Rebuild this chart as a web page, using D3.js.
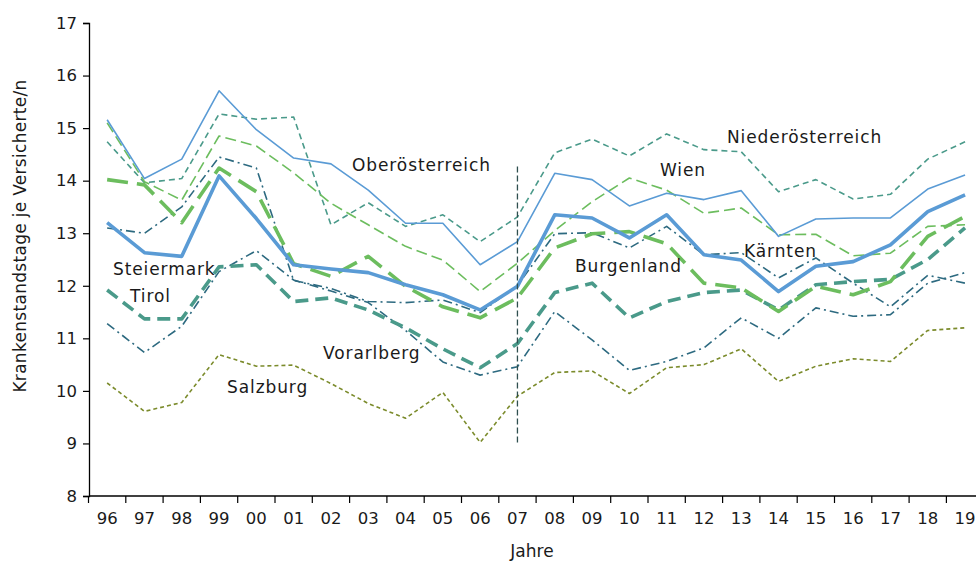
<!DOCTYPE html>
<html>
<head>
<meta charset="utf-8">
<script src="https://cdn.jsdelivr.net/npm/d3@7"></script>
<style>
  body { margin: 0; background: #fff; }
  svg text { font-family: "DejaVu Sans", sans-serif; fill: #1a1a1a; }
</style>
</head>
<body>
<div id="chart"></div>
<script>
var years = ["96","97","98","99","00","01","02","03","04","05","06","07","08","09","10","11","12","13","14","15","16","17","18","19"];
var yTicks = [8, 9, 10, 11, 12, 13, 14, 15, 16, 17];

var niederoesterreich = [14.74,13.96,14.04,15.27,15.17,15.21,13.16,13.58,13.13,13.35,12.84,13.31,14.53,14.79,14.47,14.89,14.59,14.55,13.79,14.02,13.65,13.74,14.41,14.74];
var wien              = [15.16,14.04,14.41,15.71,14.97,14.43,14.32,13.82,13.19,13.19,12.40,12.84,14.14,14.02,13.52,13.76,13.64,13.81,12.94,13.27,13.29,13.29,13.84,14.11];
var oberoesterreich   = [15.10,13.98,13.63,14.85,14.66,14.15,13.57,13.16,12.75,12.49,11.89,12.43,13.05,13.60,14.05,13.82,13.38,13.48,12.97,12.98,12.57,12.62,13.13,13.16];
var burgenland        = [14.02,13.92,13.20,14.24,13.79,12.42,12.18,12.56,11.99,11.60,11.39,11.77,12.72,12.99,13.03,12.80,12.05,11.96,11.51,11.99,11.83,12.08,12.94,13.32];
var steiermark        = [13.20,12.63,12.56,14.09,13.28,12.40,12.32,12.25,12.02,11.83,11.54,11.99,13.35,13.29,12.91,13.35,12.59,12.49,11.89,12.37,12.46,12.78,13.41,13.73];
var kaernten          = [13.10,13.00,13.50,14.45,14.24,12.10,11.95,11.70,11.68,11.73,11.49,12.00,12.99,13.01,12.72,13.13,12.59,12.63,12.15,12.53,12.05,11.60,12.20,12.05];
var tirol             = [11.92,11.37,11.37,12.36,12.40,11.70,11.77,11.54,11.20,10.80,10.44,10.90,11.87,12.05,11.39,11.70,11.87,11.92,11.54,12.02,12.08,12.12,12.50,13.10];
var vorarlberg        = [11.28,10.73,11.23,12.27,12.67,12.11,11.90,11.68,11.15,10.55,10.30,10.46,11.51,10.97,10.39,10.56,10.82,11.39,11.00,11.58,11.42,11.45,12.05,12.25];
var salzburg          = [10.15,9.61,9.78,10.69,10.47,10.49,10.14,9.76,9.48,9.97,9.02,9.90,10.35,10.38,9.95,10.44,10.50,10.80,10.18,10.47,10.61,10.56,11.15,11.20];

var series = [
  {name: "Salzburg", values: salzburg, color: "#7b8b2b", width: 1.6, dash: "4,3"},
  {name: "Vorarlberg", values: vorarlberg, color: "#2d6a80", width: 1.6, dash: "9,4,2,4"},
  {name: "Kärnten", values: kaernten, color: "#2d6a80", width: 1.6, dash: "9,4,2,4"},
  {name: "Niederösterreich", values: niederoesterreich, color: "#4a9a8a", width: 1.6, dash: "6,4"},
  {name: "Oberösterreich", values: oberoesterreich, color: "#6cbd5e", width: 1.6, dash: "11,5"},
  {name: "Wien", values: wien, color: "#5a9bd5", width: 1.6, dash: null},
  {name: "Tirol", values: tirol, color: "#4a9a8a", width: 3.6, dash: "13,7"},
  {name: "Burgenland", values: burgenland, color: "#6cbd5e", width: 3.6, dash: "21,9"},
  {name: "Steiermark", values: steiermark, color: "#5a9bd5", width: 3.6, dash: null}
];

var labels = [
  {text: "Niederösterreich", x: 727, y: 143},
  {text: "Wien", x: 660, y: 176},
  {text: "Oberösterreich", x: 352, y: 171},
  {text: "Steiermark", x: 113, y: 275},
  {text: "Tirol", x: 130, y: 302},
  {text: "Kärnten", x: 744, y: 257},
  {text: "Burgenland", x: 575, y: 272},
  {text: "Vorarlberg", x: 323, y: 359},
  {text: "Salzburg", x: 227, y: 393}
];

var width = 976, height = 562;

var svg = d3.select("#chart").append("svg")
  .attr("width", width)
  .attr("height", height);

var x = d3.scaleBand()
  .domain(years)
  .range([88.5, 88.5 + 24 * 37.3]);

var y = d3.scaleLinear()
  .domain([8, 17])
  .range([496, 23]);

function cx(d) { return x(d) + x.bandwidth() / 2; }

// y axis
var yAxis = svg.append("g")
  .attr("transform", "translate(89,0)")
  .call(d3.axisLeft(y).tickValues(yTicks).tickSize(6).tickFormat(d3.format("d")));
yAxis.select(".domain").attr("stroke", "#000").attr("stroke-width", 1.3);
yAxis.selectAll(".tick line").attr("stroke", "#000").attr("stroke-width", 1.2);
yAxis.selectAll(".tick text").attr("font-size", 16.5).attr("x", -12)
  .style("font-family", "DejaVu Sans, sans-serif").attr("fill", "#1a1a1a");

// x axis with ticks between categories
var xAxis = svg.append("g")
  .attr("transform", "translate(0,496)")
  .call(d3.axisBottom(x).tickSize(0).tickPadding(16));
xAxis.select(".domain").remove();
xAxis.selectAll(".tick text").attr("font-size", 16.5)
  .style("font-family", "DejaVu Sans, sans-serif").attr("fill", "#1a1a1a");

svg.append("line")
  .attr("x1", 89).attr("x2", width)
  .attr("y1", 496).attr("y2", 496)
  .attr("stroke", "#000").attr("stroke-width", 1.3);

svg.append("g").selectAll("line")
  .data(years)
  .enter()
  .append("line")
  .attr("x1", function(d){ return x(d); })
  .attr("x2", function(d){ return x(d); })
  .attr("y1", 496).attr("y2", 503)
  .attr("stroke", "#000").attr("stroke-width", 1.2);

// axis titles
svg.append("text")
  .attr("transform", "translate(26,236) rotate(-90)")
  .attr("text-anchor", "middle")
  .attr("font-size", 17)
  .attr("letter-spacing", 0.3)
  .text("Krankenstandstage je Versicherte/n");

svg.append("text")
  .attr("x", 532).attr("y", 557)
  .attr("text-anchor", "middle")
  .attr("font-size", 17)
  .text("Jahre");

// lines
var line = d3.line()
  .x(function(d, i){ return cx(years[i]); })
  .y(function(d){ return y(d); });

svg.append("g").selectAll("path")
  .data(series)
  .enter()
  .append("path")
  .attr("d", function(d){ return line(d.values); })
  .attr("fill", "none")
  .attr("stroke", function(d){ return d.color; })
  .attr("stroke-width", function(d){ return d.width; })
  .attr("stroke-dasharray", function(d){ return d.dash; })
  .attr("stroke-linejoin", "round");

// break marker at 07
svg.append("line")
  .attr("x1", cx("07")).attr("x2", cx("07"))
  .attr("y1", y(14.27)).attr("y2", y(8.98))
  .attr("stroke", "#2f4f4f")
  .attr("stroke-width", 1.3)
  .attr("stroke-dasharray", "6,3");

// series labels
svg.append("g").selectAll("text")
  .data(labels)
  .enter()
  .append("text")
  .attr("x", function(d){ return d.x; })
  .attr("y", function(d){ return d.y; })
  .attr("font-size", 17)
  .attr("letter-spacing", 0.9)
  .text(function(d){ return d.text; });
</script>
</body>
</html>
